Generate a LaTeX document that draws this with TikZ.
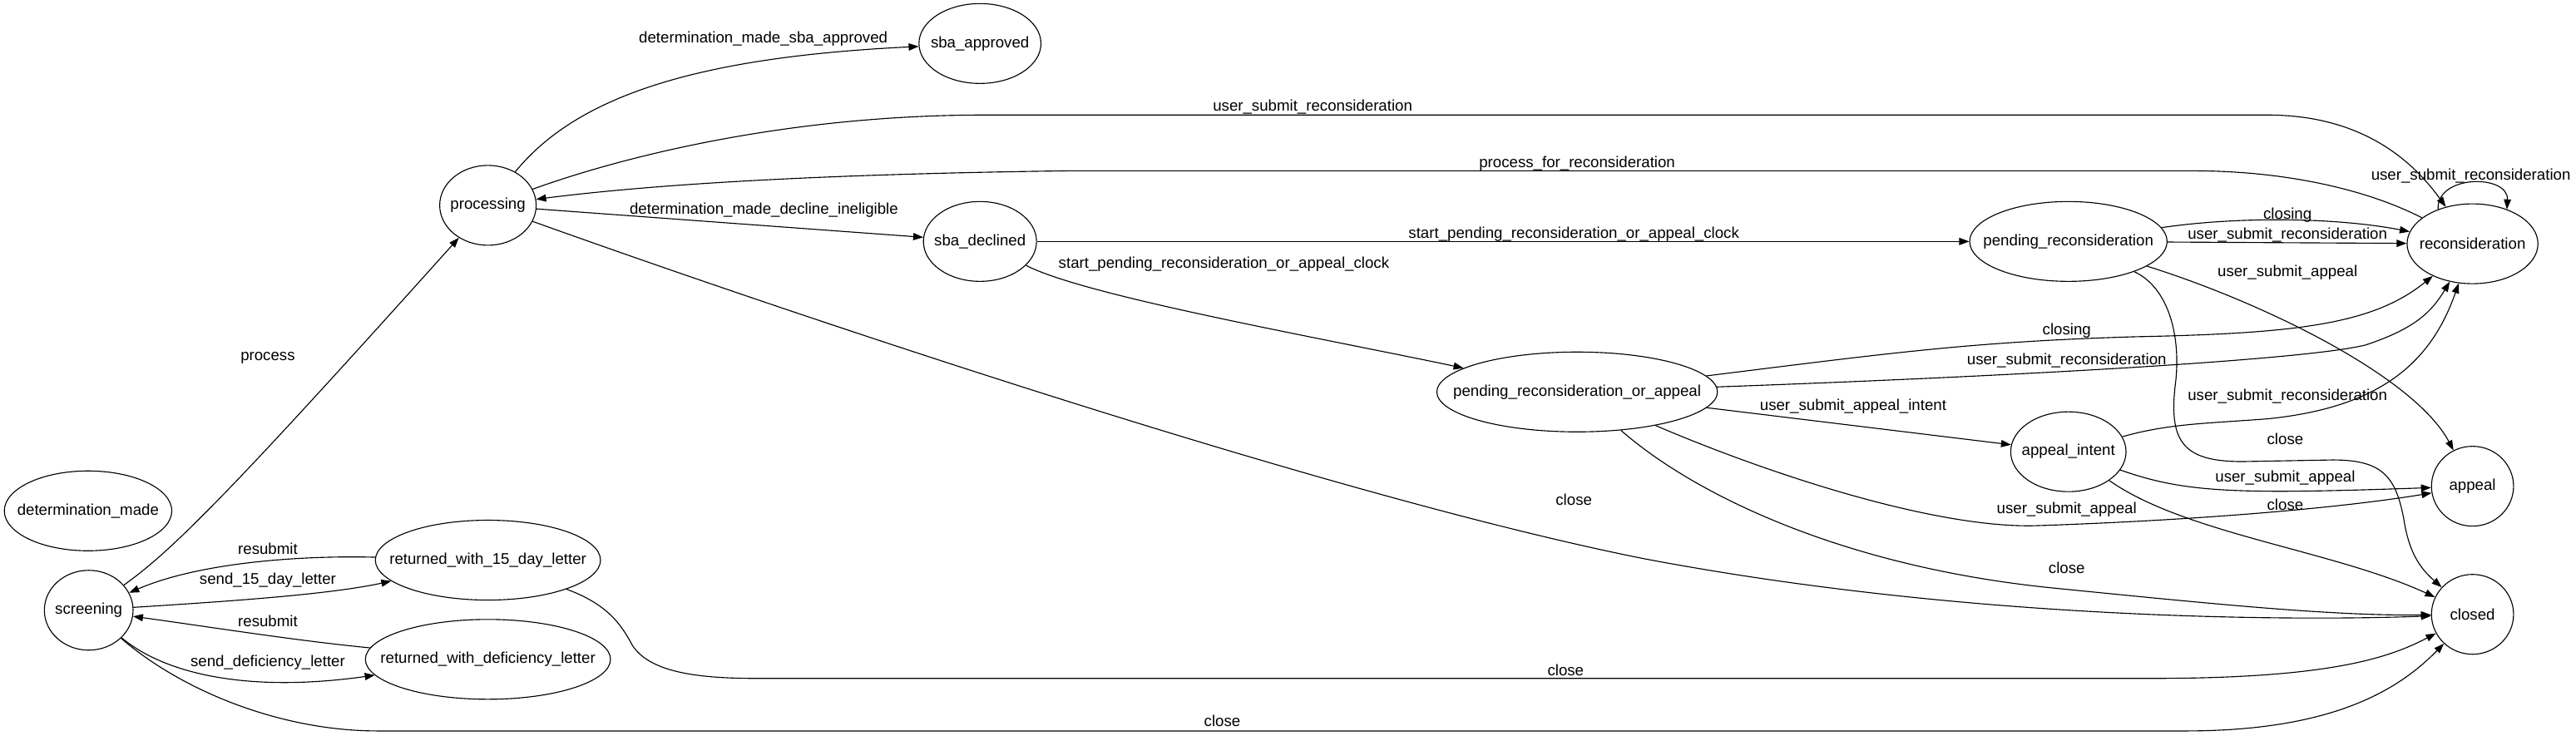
\documentclass[tikz,border=0pt]{standalone}
\usepackage{fontspec}
\setmainfont{Liberation Sans}
\usetikzlibrary{shapes.geometric, arrows.meta}

\begin{document}
\begin{tikzpicture}[
    x=1.4813pt, y=-1.4813pt,
    state/.style={ellipse, draw, line width=0.85pt, inner sep=0pt, minimum height=72pt, font=\fontsize{14}{16}\selectfont},
    lbl/.style={inner sep=0pt, text height=10pt, text depth=3pt, font=\fontsize{14}{16}\selectfont},
    edge/.style={-{Triangle[length=9pt, width=6.5pt]}, line width=0.85pt},
  ]
    \useasboundingbox (0,0) rectangle (1568,448);
    % states
    \node[state, minimum width=151pt] (detmade) at (53.6,311) {\makebox[0pt]{determination\_made}};
    \node[state, minimum width=80pt] (screening) at (54,371.5) {\makebox[0pt]{screening}};
    \node[state, minimum width=203pt] (ret15) at (297,341) {\makebox[0pt]{returned\_with\_15\_day\_letter}};
    \node[state, minimum width=221pt] (retdef) at (297,401.4) {\makebox[0pt]{returned\_with\_deficiency\_letter}};
    \node[state, minimum width=87pt] (processing) at (297,125) {\makebox[0pt]{processing}};
    \node[state, minimum width=110pt] (sbaok) at (596.5,26.5) {\makebox[0pt]{sba\_approved}};
    \node[state, minimum width=102pt] (sbadecl) at (596.5,147) {\makebox[0pt]{sba\_declined}};
    \node[state, minimum width=253pt] (pendrecapp) at (960,238.6) {\makebox[0pt]{pending\_reconsideration\_or\_appeal}};
    \node[state, minimum width=178pt] (pendrec) at (1259,147) {\makebox[0pt]{pending\_reconsideration}};
    \node[state, minimum width=104pt] (apintent) at (1259,275) {\makebox[0pt]{appeal\_intent}};
    \node[state, minimum width=118pt] (recon) at (1505,148.4) {\makebox[0pt]{reconsideration}};
    \node[state, minimum width=74pt] (appeal) at (1505,296) {\makebox[0pt]{appeal}};
    \node[state, minimum width=74pt] (closed) at (1505,374) {\makebox[0pt]{closed}};

    % screening and letters
    \draw[edge] (screening) .. controls (105,335) and (140,300) .. (processing);
    \draw[edge] (ret15) .. controls (180,338) and (120,343) .. (screening);
    \draw[edge] (screening) .. controls (140,366) and (200,362) .. (ret15);
    \draw[edge] (retdef) .. controls (180,390) and (130,382) .. (screening);
    \draw[edge] (screening) .. controls (100,410) and (150,422) .. (retdef);
    \draw[edge] (screening) .. controls (110,420) and (170,445) .. (230,445) -- (1330,445) .. controls (1420,445) and (1460,420) .. (closed);
    \draw[edge] (ret15) .. controls (370,368) and (378,380) .. (385,393) .. controls (395,408) and (420,413) .. (460,413) -- (1310,413) .. controls (1420,413) and (1455,400) .. (closed);
    \node[lbl] (lprocess) at (163,217) {process};
    \node[lbl] (lresubA) at (163,335) {resubmit};
    \node[lbl] (lsendA) at (163,353.5) {send\_15\_day\_letter};
    \node[lbl] (lresubB) at (163,379) {resubmit};
    \node[lbl] (lsendB) at (163,403.5) {send\_deficiency\_letter};
    \node[lbl] (lcloseA) at (744,440) {close};
    \node[lbl] (lcloseB) at (953,409) {close};

    % processing
    \draw[edge] (processing) .. controls (350,60) and (420,35) .. (sbaok);
    \draw[edge] (processing) .. controls (380,95) and (480,70) .. (600,70) -- (1380,70) .. controls (1440,70) and (1470,100) .. (recon);
    \draw[edge] (recon) .. controls (1440,115) and (1390,104) .. (1335,104) -- (650,104) .. controls (500,106) and (400,112) .. (processing);
    \draw[edge] (recon.135) .. controls (1483,106) and (1527,106) .. (recon.45);
    \draw[edge] (processing) -- (sbadecl);
    \draw[edge] (processing) .. controls (450,180) and (800,300) .. (1000,340) .. controls (1200,378) and (1400,378) .. (closed);
    \node[lbl] (lsbaok) at (464.6,23.6) {determination\_made\_sba\_approved};
    \node[lbl] (lsubmitP) at (799,65) {user\_submit\_reconsideration};
    \node[lbl] (lprocrec) at (960,99.6) {process\_for\_reconsideration};
    \node[lbl] (lloop) at (1504,107) {user\_submit\_reconsideration};
    \node[lbl] (ldecl) at (465,128) {determination\_made\_decline\_ineligible};
    \node[lbl] (lcloseC) at (958,305) {close};

    % declined
    \draw[edge] (sbadecl) -- (pendrec);
    \draw[edge] (sbadecl) .. controls (660,180) and (800,205) .. (pendrecapp);
    \node[lbl] (lclockA) at (958,142.6) {start\_pending\_reconsideration\_or\_appeal\_clock};
    \node[lbl] (lclockB) at (745,161) {start\_pending\_reconsideration\_or\_appeal\_clock};

    % pending reconsideration
    \draw[edge] (pendrec) .. controls (1360,132) and (1420,132) .. (recon);
    \draw[edge] (pendrec) -- (recon);
    \draw[edge] (pendrec) .. controls (1380,185) and (1470,230) .. (appeal);
    \draw[edge] (pendrec) .. controls (1320,175) and (1328,205) .. (1324,235) .. controls (1320,270) and (1330,281) .. (1365,281) -- (1420,280) .. controls (1450,280) and (1458,290) .. (1463,315) .. controls (1466,335) and (1472,345) .. (closed);
    \node[lbl] (lclosingA) at (1392.4,130.8) {closing};
    \node[lbl] (lsubmitPR) at (1392.4,143.1) {user\_submit\_reconsideration};
    \node[lbl] (lappealPR) at (1392.4,166) {user\_submit\_appeal};
    \node[lbl] (lcloseD) at (1391,268) {close};

    % pending reconsideration or appeal
    \draw[edge] (pendrecapp) .. controls (1150,215) and (1200,208) .. (1300,205) .. controls (1400,203) and (1445,197) .. (recon);
    \draw[edge] (pendrecapp) .. controls (1200,230) and (1400,220) .. (1440,210) .. controls (1470,200) and (1480,190) .. (recon);
    \draw[edge] (pendrecapp) -- (apintent);
    \draw[edge] (pendrecapp) .. controls (1080,290) and (1180,322) .. (1240,320) .. controls (1330,317) and (1420,310) .. (appeal);
    \draw[edge] (pendrecapp) .. controls (1030,300) and (1120,345) .. (1250,358) .. controls (1350,368) and (1420,375) .. (closed);
    \node[lbl] (lclosingB) at (1258,201.5) {closing};
    \node[lbl] (lsubmitPRA) at (1258,219.4) {user\_submit\_reconsideration};
    \node[lbl] (lintent) at (1128,247.5) {user\_submit\_appeal\_intent};
    \node[lbl] (lappealPRA) at (1258,310.5) {user\_submit\_appeal};
    \node[lbl] (lcloseE) at (1258,346.8) {close};

    % appeal intent
    \draw[edge] (apintent) .. controls (1320,258) and (1340,258) .. (1380,255) .. controls (1450,248) and (1480,220) .. (recon);
    \draw[edge] (apintent) .. controls (1330,300) and (1360,301) .. (appeal);
    \draw[edge] (apintent) .. controls (1330,325) and (1420,335) .. (closed);
    \node[lbl] (lsubmitAI) at (1392.4,241.4) {user\_submit\_reconsideration};
    \node[lbl] (lappealAI) at (1391,291) {user\_submit\_appeal};
    \node[lbl] (lcloseF) at (1391,308) {close};
\end{tikzpicture}
\end{document}
